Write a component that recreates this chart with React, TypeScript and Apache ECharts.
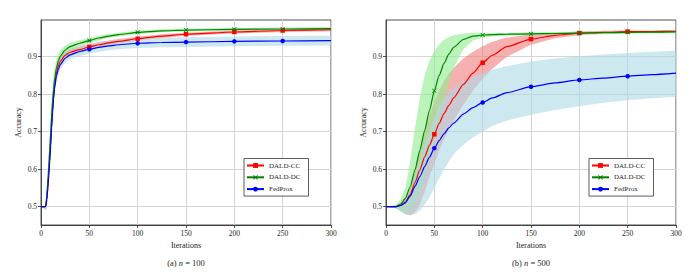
import React, { useEffect, useRef } from "react";
import * as echarts from "echarts";

// ---------- data ----------
const METHODS = ["DALD-CC", "DALD-DC", "FedProx"];
const MARK_ITERS = [50, 100, 150, 200, 250];
const Y_TICKS = [0.5, 0.6, 0.7, 0.8, 0.9];

// (a) n = 100
const LEFT_X = [0, 4, 5, 6, 7, 8, 9, 10, 11, 12, 13, 14, 16, 18, 20, 25, 30, 40, 50, 60, 70, 80, 100, 125, 150, 200, 250, 300];
const LEFT_CC = [0.5, 0.5, 0.502, 0.52, 0.55, 0.588, 0.63, 0.672, 0.72, 0.762, 0.797, 0.824, 0.857, 0.876, 0.888, 0.904, 0.912, 0.919, 0.926, 0.932, 0.937, 0.941, 0.948, 0.955, 0.96, 0.966, 0.97, 0.972];
const LEFT_CC_UP = [0.5, 0.5, 0.508, 0.535, 0.57, 0.615, 0.66, 0.705, 0.75, 0.79, 0.82, 0.844, 0.872, 0.889, 0.9, 0.914, 0.921, 0.928, 0.933, 0.939, 0.943, 0.947, 0.953, 0.96, 0.964, 0.97, 0.974, 0.976];
const LEFT_CC_LO = [0.5, 0.495, 0.494, 0.505, 0.53, 0.565, 0.6, 0.645, 0.69, 0.735, 0.774, 0.804, 0.842, 0.863, 0.877, 0.894, 0.903, 0.91, 0.919, 0.925, 0.931, 0.935, 0.943, 0.95, 0.956, 0.962, 0.966, 0.968];
const LEFT_DC = [0.5, 0.5, 0.503, 0.53, 0.565, 0.605, 0.65, 0.697, 0.742, 0.782, 0.813, 0.839, 0.871, 0.89, 0.902, 0.918, 0.927, 0.936, 0.943, 0.95, 0.955, 0.959, 0.965, 0.969, 0.971, 0.973, 0.974, 0.975];
const LEFT_DC_UP = [0.5, 0.5, 0.512, 0.55, 0.6, 0.645, 0.69, 0.74, 0.785, 0.82, 0.848, 0.868, 0.893, 0.908, 0.918, 0.93, 0.937, 0.944, 0.95, 0.956, 0.96, 0.964, 0.97, 0.973, 0.975, 0.977, 0.978, 0.979];
const LEFT_DC_LO = [0.5, 0.493, 0.488, 0.5, 0.53, 0.565, 0.61, 0.655, 0.7, 0.745, 0.779, 0.808, 0.848, 0.871, 0.885, 0.906, 0.917, 0.928, 0.936, 0.944, 0.95, 0.954, 0.96, 0.965, 0.967, 0.969, 0.97, 0.971];
const LEFT_FP = [0.5, 0.5, 0.502, 0.52, 0.548, 0.582, 0.62, 0.662, 0.71, 0.752, 0.788, 0.815, 0.849, 0.867, 0.879, 0.896, 0.905, 0.914, 0.92, 0.925, 0.929, 0.932, 0.936, 0.938, 0.939, 0.941, 0.942, 0.943];
const LEFT_FP_UP = [0.5, 0.5, 0.508, 0.535, 0.568, 0.605, 0.648, 0.692, 0.738, 0.777, 0.809, 0.834, 0.864, 0.881, 0.892, 0.908, 0.917, 0.926, 0.932, 0.937, 0.941, 0.944, 0.949, 0.951, 0.952, 0.954, 0.955, 0.956];
const LEFT_FP_LO = [0.5, 0.495, 0.492, 0.5, 0.524, 0.557, 0.59, 0.632, 0.68, 0.726, 0.765, 0.797, 0.834, 0.854, 0.867, 0.884, 0.893, 0.902, 0.908, 0.913, 0.917, 0.92, 0.923, 0.925, 0.926, 0.928, 0.929, 0.93];

// (b) n = 500
const RIGHT_X = [0, 10, 15, 20, 25, 30, 35, 40, 45, 50, 55, 60, 65, 70, 80, 90, 100, 110, 125, 150, 175, 200, 225, 250, 275, 300];
const RIGHT_CC = [0.5, 0.5, 0.503, 0.512, 0.532, 0.565, 0.598, 0.633, 0.664, 0.693, 0.722, 0.748, 0.77, 0.79, 0.826, 0.856, 0.884, 0.904, 0.927, 0.947, 0.957, 0.963, 0.965, 0.967, 0.967, 0.968];
const RIGHT_CC_UP = [0.5, 0.502, 0.51, 0.525, 0.55, 0.595, 0.65, 0.7, 0.745, 0.78, 0.81, 0.835, 0.855, 0.87, 0.895, 0.913, 0.928, 0.94, 0.951, 0.96, 0.964, 0.967, 0.969, 0.97, 0.97, 0.971];
const RIGHT_CC_LO = [0.5, 0.497, 0.49, 0.48, 0.477, 0.485, 0.505, 0.54, 0.58, 0.615, 0.65, 0.68, 0.705, 0.73, 0.772, 0.81, 0.842, 0.868, 0.9, 0.932, 0.949, 0.957, 0.961, 0.963, 0.964, 0.965];
const RIGHT_DC = [0.5, 0.5, 0.506, 0.522, 0.553, 0.598, 0.65, 0.703, 0.757, 0.809, 0.85, 0.882, 0.907, 0.925, 0.946, 0.955, 0.958, 0.959, 0.96, 0.961, 0.962, 0.963, 0.964, 0.965, 0.9655, 0.966];
const RIGHT_DC_UP = [0.5, 0.505, 0.52, 0.55, 0.62, 0.71, 0.79, 0.85, 0.89, 0.915, 0.933, 0.945, 0.952, 0.957, 0.962, 0.964, 0.964, 0.964, 0.964, 0.965, 0.966, 0.967, 0.968, 0.969, 0.969, 0.97];
const RIGHT_DC_LO = [0.5, 0.495, 0.487, 0.482, 0.49, 0.51, 0.54, 0.58, 0.63, 0.68, 0.73, 0.78, 0.83, 0.87, 0.92, 0.943, 0.951, 0.954, 0.956, 0.957, 0.958, 0.959, 0.96, 0.961, 0.962, 0.962];
const RIGHT_FP = [0.5, 0.5, 0.503, 0.51, 0.528, 0.554, 0.58, 0.607, 0.632, 0.656, 0.676, 0.694, 0.71, 0.723, 0.747, 0.764, 0.778, 0.79, 0.804, 0.82, 0.83, 0.838, 0.843, 0.848, 0.852, 0.856];
const RIGHT_FP_UP = [0.5, 0.503, 0.508, 0.52, 0.545, 0.58, 0.62, 0.665, 0.705, 0.74, 0.77, 0.79, 0.806, 0.818, 0.834, 0.846, 0.855, 0.865, 0.875, 0.887, 0.895, 0.901, 0.906, 0.91, 0.913, 0.916];
const RIGHT_FP_LO = [0.5, 0.497, 0.49, 0.482, 0.477, 0.48, 0.49, 0.505, 0.525, 0.55, 0.575, 0.6, 0.62, 0.64, 0.665, 0.685, 0.7, 0.715, 0.73, 0.745, 0.758, 0.768, 0.777, 0.784, 0.789, 0.793];

// ---------- styling ----------
const LINE_COLORS = ["#ff0000", "#008000", "#0000ff"];
const BAND_COLORS = ["rgba(240,128,128,0.62)", "rgba(144,238,144,0.62)", "rgba(173,216,230,0.6)"];
const SYMBOLS = [
  "rect",
  "path://M0,1.2L1.2,0L5,3.8L8.8,0L10,1.2L6.2,5L10,8.8L8.8,10L5,6.2L1.2,10L0,8.8L3.8,5Z",
  "circle",
];
const FONT = "Liberation Serif";
const INK = "#262626";

function bandSeries(xs: number[], up: number[], lo: number[], color: string, gi: number) {
  return {
    type: "custom",
    xAxisIndex: gi,
    yAxisIndex: gi,
    silent: true,
    z: 1,
    clip: true,
    data: [[xs[0], up[0]]],
    encode: { x: 0, y: 1 },
    renderItem: (_params: any, api: any) => {
      const pts: number[][] = [];
      for (let i = 0; i < xs.length; i++) pts.push(api.coord([xs[i], up[i]]));
      for (let i = xs.length - 1; i >= 0; i--) pts.push(api.coord([xs[i], lo[i]]));
      return { type: "polygon", shape: { points: pts }, style: { fill: color, stroke: "none" } };
    },
  };
}

function lineSeries(name: string, xs: number[], ys: number[], k: number, gi: number) {
  return {
    type: "line",
    name,
    xAxisIndex: gi,
    yAxisIndex: gi,
    data: xs.map((x, i) => [x, ys[i]]),
    symbol: SYMBOLS[k],
    symbolSize: (v: number[]) => (MARK_ITERS.includes(v[0]) ? 4.5 : 0),
    showSymbol: true,
    showAllSymbol: true,
    smooth: 0.2,
    smoothMonotone: "x",
    z: 5,
    lineStyle: { color: LINE_COLORS[k], width: 1.2 },
    itemStyle: { color: LINE_COLORS[k] },
  };
}

function makeX(gi: number) {
  return {
    type: "value",
    gridIndex: gi,
    min: 0,
    max: 300,
    interval: 50,
    name: "Iterations",
    nameLocation: "middle",
    nameGap: 16,
    nameTextStyle: { fontFamily: FONT, fontSize: 8, color: INK },
    axisLine: { show: true, onZero: false, lineStyle: { color: INK, width: 0.8 } },
    axisTick: { show: true, length: 3, lineStyle: { color: INK, width: 0.8 } },
    axisLabel: { fontFamily: FONT, fontSize: 7.5, color: INK, margin: 4 },
    splitLine: { show: true, lineStyle: { color: "#d4d4d4", width: 1 } },
  };
}

function makeY(gi: number) {
  return {
    type: "value",
    gridIndex: gi,
    min: 0.451,
    max: 0.998,
    name: "Accuracy",
    nameLocation: "middle",
    nameGap: 19,
    nameTextStyle: { fontFamily: FONT, fontSize: 8, color: INK },
    axisLine: { show: true, onZero: false, lineStyle: { color: INK, width: 0.8 } },
    axisTick: { show: true, length: 3, customValues: Y_TICKS, lineStyle: { color: INK, width: 0.8 } },
    axisLabel: {
      fontFamily: FONT,
      fontSize: 7.5,
      color: INK,
      margin: 4,
      customValues: Y_TICKS,
      formatter: (v: number) => v.toFixed(1),
    },
    splitLine: { show: true, lineStyle: { color: "#d4d4d4", width: 1 } },
  };
}

function makeLegend(left: number) {
  return {
    left,
    top: 158.5,
    orient: "vertical",
    data: METHODS,
    itemWidth: 17,
    itemHeight: 6,
    itemGap: 4.8,
    padding: [3.5, 8, 3.5, 2],
    backgroundColor: "#ffffff",
    borderColor: "#333333",
    borderWidth: 0.8,
    borderRadius: 0,
    textStyle: { fontFamily: FONT, fontSize: 7, color: INK, lineHeight: 6 },
    selectedMode: false,
  };
}

export default function App() {
  const ref = useRef<HTMLDivElement>(null);
  useEffect(() => {
    if (!ref.current) return;
    const chart = echarts.init(ref.current, null, { renderer: "svg" });
    const L = [
      [LEFT_CC, LEFT_CC_UP, LEFT_CC_LO],
      [LEFT_DC, LEFT_DC_UP, LEFT_DC_LO],
      [LEFT_FP, LEFT_FP_UP, LEFT_FP_LO],
    ];
    const R = [
      [RIGHT_CC, RIGHT_CC_UP, RIGHT_CC_LO],
      [RIGHT_DC, RIGHT_DC_UP, RIGHT_DC_LO],
      [RIGHT_FP, RIGHT_FP_UP, RIGHT_FP_LO],
    ];
    const series: any[] = [];
    [L, R].forEach((panel, gi) => {
      const xs = gi === 0 ? LEFT_X : RIGHT_X;
      panel.forEach((s, k) => series.push(bandSeries(xs, s[1], s[2], BAND_COLORS[k], gi)));
      panel.forEach((s, k) => series.push(lineSeries(METHODS[k], xs, s[0], k, gi)));
    });
    const caption = (x: number, label: string, n: string) => ({
      type: "text",
      x,
      y: 263,
      style: {
        text: label + " {i|n} = " + n,
        textAlign: "center",
        textVerticalAlign: "middle",
        fontFamily: FONT,
        fontSize: 8.5,
        fill: INK,
        rich: { i: { fontStyle: "italic", fontFamily: FONT, fontSize: 8.5, fill: INK } },
      },
    });
    chart.setOption({
      animation: false,
      textStyle: { fontFamily: FONT },
      grid: [
        { left: 41, top: 20, width: 290, height: 205, show: true, borderColor: INK, borderWidth: 0.8, backgroundColor: "transparent" },
        { left: 386, top: 20, width: 290, height: 205, show: true, borderColor: INK, borderWidth: 0.8, backgroundColor: "transparent" },
      ],
      xAxis: [makeX(0), makeX(1)],
      yAxis: [makeY(0), makeY(1)],
      legend: [makeLegend(244), makeLegend(589)],
      series,
      graphic: [caption(186, "(a)", "100"), caption(531, "(b)", "500")],
    });
    return () => chart.dispose();
  }, []);
  return <div ref={ref} style={{ position: "absolute", left: 0, top: 0, width: 696, height: 272 }} />;
}
